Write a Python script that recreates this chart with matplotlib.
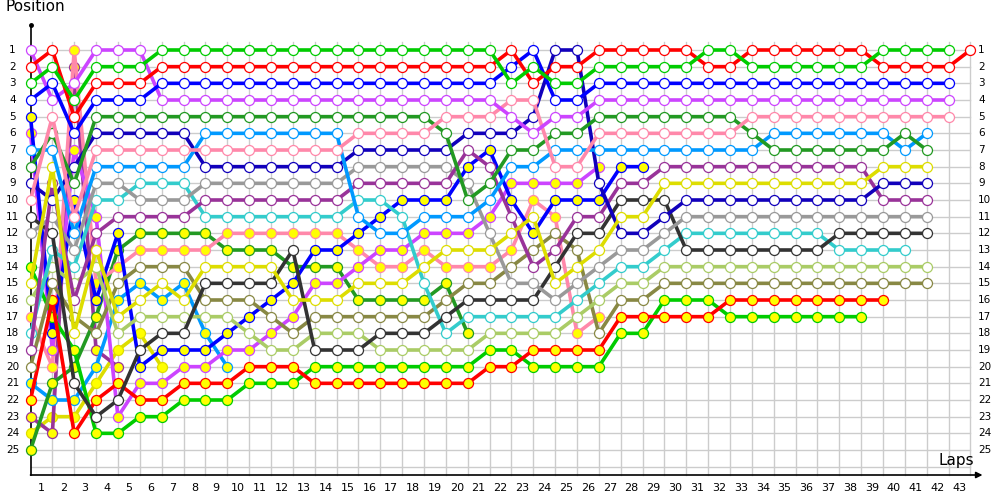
import matplotlib
matplotlib.use('Agg')
import matplotlib.pyplot as plt

# --------------------------------------------------------------------
#                       DATA (position per lap, lap 0 = start)
# --------------------------------------------------------------------
green_w = [3, 2, 4, 2, 2, 2, 1, 1, 1, 1, 1, 1, 1, 1, 1, 1, 1, 1, 1, 1, 1, 1,
           3, 2, 3, 3, 2, 2, 2, 2, 2, 1, 1, 2, 2, 2, 2, 2, 2, 1, 1, 1, 1]
red_w = [2, 1, 5, 3, 3, 3, 2, 2, 2, 2, 2, 2, 2, 2, 2, 2, 2, 2, 2, 2, 2, 2,
         1, 3, 2, 2, 1, 1, 1, 1, 1, 2, 2, 1, 1, 1, 1, 1, 1, 2, 2, 2, 2, 1]
blue_w = [4, 3, 6, 4, 4, 4, 3, 3, 3, 3, 3, 3, 3, 3, 3, 3, 3, 3, 3, 3, 3, 3,
          2, 1, 4, 4, 3, 3, 3, 3, 3, 3, 3, 3, 3, 3, 3, 3, 3, 3, 3, 3, 3]
violet_w = [1, 4, 3, 1, 1, 1, 4, 4, 4, 4, 4, 4, 4, 4, 4, 4, 4, 4, 4, 4, 4, 4,
            5, 6, 5, 5, 4, 4, 4, 4, 4, 4, 4, 4, 4, 4, 4, 4, 4, 4, 4, 4, 4]
dkgreen_w = [8, 6, 9, 5, 5, 5, 5, 5, 5, 5, 5, 5, 5, 5, 5, 5, 5, 5, 5, 6, 10,
             9, 7, 7, 6, 6, 5, 5, 5, 5, 5, 5, 5, 6, 7, 7, 7, 7, 7, 7, 6, 7]
pink_w = [10, 5, 11, 7, 7, 7, 7, 7, 7, 7, 7, 7, 7, 7, 7, 6, 6, 6, 6, 5, 5, 5,
          4, 4, 8, 8, 6, 6, 6, 6, 6, 6, 6, 5, 5, 5, 5, 5, 5, 5, 5, 5, 5]
dkblue_w = [9, 10, 8, 6, 6, 6, 6, 6, 8, 8, 8, 8, 8, 8, 8, 7, 7, 7, 7, 7, 6,
            6, 6, 5, 1, 1, 9, 12, 12, 11, 10, 10, 10, 10, 10, 10, 10, 10, 10,
            9, 9, 9]
ltblue_w = [7, 7, 12, 8, 8, 8, 8, 8, 6, 6, 6, 6, 6, 6, 6, 11, 12, 12, 11, 11,
            11, 10, 8, 8, 7, 7, 7, 7, 7, 7, 7, 7, 7, 7, 6, 6, 6, 6, 6, 6, 7, 6]
cyan_w = [18, 13, 14, 10, 10, 9, 9, 9, 11, 11, 11, 11, 11, 11, 11, 10, 10, 11,
          15, 18, 17, 17, 17, 17, 17, 16, 15, 14, 14, 13, 12, 12, 12, 12, 12,
          12, 12, 13, 13, 13, 13]
gray_w = [12, 11, 13, 9, 9, 10, 10, 10, 9, 9, 9, 9, 9, 9, 9, 8, 8, 8, 8, 8, 9,
          12, 15, 15, 16, 15, 14, 13, 13, 12, 11, 11, 11, 11, 11, 11, 11, 11,
          11, 11, 11, 11]
black_w = [11, 12, 21, 23, 22, 19, 18, 18, 15, 15, 15, 15, 13, 19, 19, 19, 18,
           18, 18, 17, 16, 16, 16, 16, 14, 12, 12, 10, 10, 10, 13, 13, 13, 13,
           13, 13, 13, 12, 12, 12, 12, 12]
purple_w = [19, 9, 16, 12, 11, 11, 11, 11, 10, 10, 10, 10, 10, 10, 10, 9, 9, 9,
            9, 9, 7, 8, 11, 14, 13, 11, 11, 9, 9, 8, 8, 8, 8, 8, 8, 8, 8, 8, 8,
            10, 10, 10]
yellow_w = [15, 8, 18, 13, 17, 16, 15, 16, 14, 14, 14, 14, 16, 16, 16, 15, 15,
            15, 14, 13, 13, 13, 12, 11, 15, 14, 13, 11, 11, 9, 9, 9, 9, 9, 9,
            9, 9, 9, 9, 8, 8, 8]
ltgreen_w = [16, 14, 15, 14, 18, 17, 17, 17, 17, 17, 18, 19, 19, 18, 18, 18,
             19, 19, 19, 19, 19, 18, 18, 18, 18, 17, 16, 15, 15, 14, 14, 14,
             14, 14, 14, 14, 14, 14, 14, 14, 14, 14]
olive_w = [20, 15, 17, 18, 15, 14, 14, 14, 16, 16, 16, 17, 18, 17, 17, 17, 17,
           17, 17, 16, 15, 15, 14, 13, 12, 13, 18, 16, 16, 15, 15, 15, 15, 15,
           15, 15, 15, 15, 15, 15, 15, 15]
red_y = [22, 16, 24, 22, 21, 22, 22, 21, 21, 21, 20, 20, 20, 21, 21, 21, 21, 21,
         21, 21, 21, 20, 20, 19, 19, 19, 19, 17, 17, 17, 17, 17, 16, 16, 16, 16,
         16, 16, 16, 16]
green_y = [14, 17, 19, 24, 24, 23, 23, 22, 22, 22, 21, 21, 21, 20, 20, 20, 20,
           20, 20, 20, 20, 19, 19, 20, 20, 20, 20, 18, 18, 16, 16, 16, 17, 17,
           17, 17, 17, 17, 17]
blue_y = [5, 18, 10, 16, 12, 20, 19, 19, 19, 18, 17, 16, 15, 13, 13, 12, 11, 10,
          10, 10, 8, 7, 10, 12, 10, 10, 10, 8, 8]
violet_y = [6, 19, 7, 11, 23, 21, 21, 20, 20, 19, 19, 18, 17, 15, 15, 14, 13,
            13, 12, 12, 12, 11, 9, 9, 9, 9, 8]
pink_y = [17, 20, 1, 15, 14, 13, 13, 13, 13, 12, 12, 12, 12, 12, 12, 13, 14, 14,
          13, 14, 14, 14, 13, 10, 11, 18, 17]
dkgreen_y = [25, 21, 20, 17, 13, 12, 12, 12, 12, 13, 13, 13, 14, 14, 14, 16, 16,
             16, 16, 15, 18]
ltblue_y = [21, 22, 22, 20, 16, 15, 16, 15, 18, 20]
purple_y = [23, 24, 2, 19, 20]
yellow_y = [24, 23, 23, 21, 19, 18, 20]

lap_labels = [str(i) for i in range(1, 44)]
pos_labels = [str(i) for i in range(1, 26)]

# (data, line colour, marker fill), drawn back to front
series = [
    (yellow_y, '#dddd00', '#ffff00'),
    (purple_y, '#993399', '#ffff00'),
    (ltblue_y, '#0099ff', '#ffff00'),
    (dkgreen_y, '#229922', '#ffff00'),
    (pink_y, '#ff88aa', '#ffff00'),
    (violet_y, '#cc44ff', '#ffff00'),
    (blue_y, '#0000ff', '#ffff00'),
    (green_y, '#00cc00', '#ffff00'),
    (red_y, '#ff0000', '#ffff00'),
    (olive_w, '#888844', 'white'),
    (ltgreen_w, '#aacc66', 'white'),
    (cyan_w, '#33cccc', 'white'),
    (black_w, '#333333', 'white'),
    (gray_w, '#999999', 'white'),
    (purple_w, '#993399', 'white'),
    (dkblue_w, '#1100bb', 'white'),
    (yellow_w, '#dddd00', 'white'),
    (ltblue_w, '#0099ff', 'white'),
    (dkgreen_w, '#229922', 'white'),
    (pink_w, '#ff88aa', 'white'),
    (violet_w, '#cc44ff', 'white'),
    (blue_w, '#0000ff', 'white'),
    (red_w, '#ff0000', 'white'),
    (green_w, '#00cc00', 'white'),
]

# --------------------------------------------------------------------
#                       PLOT
# --------------------------------------------------------------------
x0, dx = 30.5, 21.86          # pixel of lap 0 and pixels per lap
fig = plt.figure(figsize=(10, 5), dpi=100)
ax = fig.add_axes([0, 0, 1, 1])
ax.set_xlim(-x0 / dx, (1000 - x0) / dx)
ax.set_ylim(28, -2)
ax.axis('off')

# grid
for k in range(1, 44):
    ax.plot([k, k], [0.55, 26.5], color='#cccccc', lw=1, zorder=0)
for p in range(1, 27):
    ax.plot([0, 43], [p, p], color='#cccccc', lw=1, zorder=0)

# axes with arrows
ax.plot([0, 0], [-0.5, 26.5], color='black', lw=1.2, zorder=1)
ax.plot([0], [-0.5], marker='o', ms=2.5, color='black', zorder=1)
ax.annotate('', xy=(43.55, 26.5), xytext=(0, 26.5),
            arrowprops=dict(arrowstyle='-|>', color='black', lw=1.2,
                            mutation_scale=9, shrinkA=0, shrinkB=0))

for data, col, fill in series:
    ax.plot(range(len(data)), data, color=col, lw=2.6,
            solid_joinstyle='miter', marker='o', ms=7.2,
            mfc=fill, mec=col, mew=0.9, zorder=2, clip_on=False)

# labels
for i, lab in enumerate(pos_labels):
    ax.text(-0.82, i + 1, lab, fontsize=7.5, ha='center', va='center')
    ax.text(43.35, i + 1, lab, fontsize=7.5, ha='left', va='center')
for i, lab in enumerate(lap_labels):
    ax.text(i + 0.5, 27.3, lab, fontsize=8, ha='center', va='center')

ax.text(-1.15, -2.05, 'Position', fontsize=11, ha='left', va='top')
ax.text(43.15, 25.6, 'Laps', fontsize=11, ha='right', va='center')

plt.savefig('out.png', dpi=100)
